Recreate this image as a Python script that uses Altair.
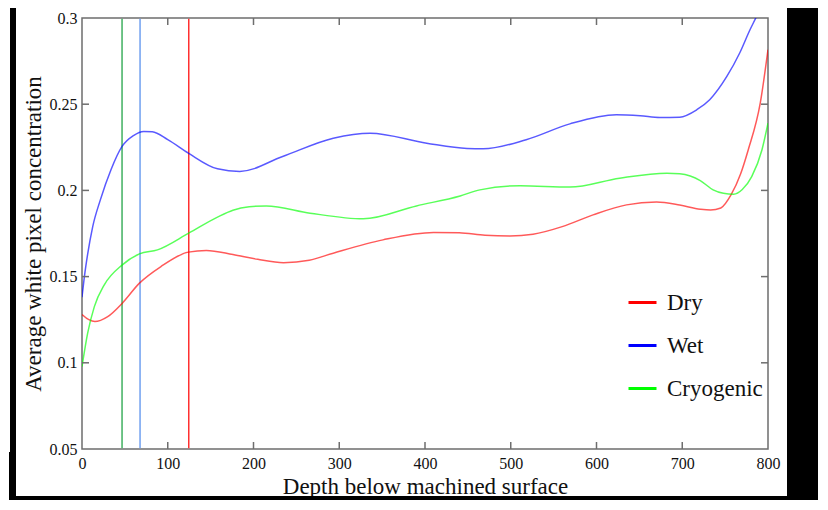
import altair as alt
import pandas as pd

# ---- data ----
dry_x = [0, 8, 15, 30, 47, 67, 92, 124, 145, 176, 205, 235, 265, 293, 351, 410, 440, 470, 499, 526, 560, 596, 635, 670, 697, 721, 733, 745, 757, 768, 777, 791, 800]
dry_y = [0.128, 0.125, 0.1239, 0.1268, 0.1346, 0.1462, 0.1558, 0.1642, 0.1652, 0.1628, 0.1600, 0.1581, 0.1595, 0.1636, 0.1713, 0.1756, 0.1754, 0.1740, 0.1736, 0.1746, 0.1790, 0.1858, 0.1916, 0.1932, 0.1915, 0.1891, 0.1886, 0.1898, 0.1975, 0.2095, 0.2236, 0.2507, 0.2816]

wet_x = [0, 2.8, 6.6, 12.5, 21.4, 33.8, 46.7, 60, 72, 82, 100, 124, 158, 184, 234, 293, 336, 402, 449, 468, 518, 569, 623, 651, 674, 697, 717, 732, 752, 767, 779, 787, 800]
wet_y = [0.138, 0.150, 0.163, 0.179, 0.1945, 0.212, 0.2255, 0.2318, 0.2342, 0.2340, 0.2294, 0.2216, 0.2125, 0.211, 0.2197, 0.2303, 0.2332, 0.2274, 0.2243, 0.2241, 0.2294, 0.2386, 0.2439, 0.2433, 0.2423, 0.2425, 0.2468, 0.2526, 0.2661, 0.2797, 0.2932, 0.3013, 0.316]

cryo_x = [0, 6.6, 14.4, 26, 47, 67, 88, 124.5, 158, 176, 195, 215, 266, 328, 390, 441, 464, 511, 569, 627, 682, 697, 721, 736, 748, 760, 770, 781, 793, 800]
cryo_y = [0.0978, 0.1172, 0.1326, 0.1452, 0.1568, 0.1632, 0.1655, 0.1752, 0.1845, 0.1885, 0.1905, 0.191, 0.1868, 0.1835, 0.191, 0.1968, 0.2003, 0.2027, 0.2019, 0.2071, 0.2100, 0.2096, 0.2057, 0.2003, 0.1983, 0.1978, 0.2005, 0.208, 0.2236, 0.239]

series = ["Dry", "Wet", "Cryogenic"]
legend_colors = ["#ff0000", "#0000ff", "#00ff00"]

vline_x = [124.5, 67.7, 46.7]
vline_names = ["Dry", "Wet", "Cryogenic"]
vline_colors = ["#ff3030", "#70a0f0", "#40b060"]

x_ticks = [0, 100, 200, 300, 400, 500, 600, 700, 800]
y_ticks = [0.05, 0.1, 0.15, 0.2, 0.25, 0.3]
x_inner_ticks = [100, 200, 300, 400, 500, 600, 700]
y_inner_ticks = [0.1, 0.15, 0.2, 0.25]

# ---- tables ----
rows = []
for name, xs, ys in [("Dry", dry_x, dry_y), ("Wet", wet_x, wet_y), ("Cryogenic", cryo_x, cryo_y)]:
    for i, (a, b) in enumerate(zip(xs, ys)):
        rows.append({"x": a, "y": b, "series": name, "order": i})
curves_df = pd.DataFrame(rows)

vl_df = pd.DataFrame({"x": vline_x, "name": vline_names, "y": [0.0505] * 3, "y2": [0.2995] * 3})
xt_df = pd.DataFrame({"x": x_inner_ticks})
yt_df = pd.DataFrame({"y": y_inner_ticks})
dummy = pd.DataFrame({"d": [0]})

W, H = 686, 431
FONT = "Liberation Serif"
GRAY = "#6e6e6e"

xscale = alt.Scale(domain=[0, 800], nice=False)
yscale = alt.Scale(domain=[0.05, 0.3], nice=False)

xaxis = alt.Axis(values=x_ticks, title="Depth below machined surface", ticks=False, domain=False,
                 labelFlush=False,
                 labelFont=FONT, labelFontSize=16, labelColor="#111", labelPadding=6,
                 titleFont=FONT, titleFontSize=23, titleFontWeight="normal", titleColor="#111",
                 titlePadding=4, grid=False)
yaxis = alt.Axis(values=y_ticks, title="Average white pixel concentration", ticks=False, domain=False,
                 labelFlush=False,
                 labelExpr="toString(round(datum.value*100)/100)",
                 labelFont=FONT, labelFontSize=16, labelColor="#111", labelPadding=5,
                 titleFont=FONT, titleFontSize=23, titleFontWeight="normal", titleColor="#111",
                 titlePadding=4, grid=False)

X = alt.X("x:Q", scale=xscale, axis=xaxis)
Y = alt.Y("y:Q", scale=yscale, axis=yaxis)


# decorative black frame (shadow)
def black_rect(x1, x2, y1, y2):
    return alt.Chart(dummy).mark_rect(color="black").encode(
        x=alt.value(x1), x2=alt.value(x2), y=alt.value(y1), y2=alt.value(y2)
    )


frame = [
    black_rect(705, 738, -10, 482),
    black_rect(-73, 738, 478, 482),
    black_rect(-72, -66, -10, 437),
    black_rect(-73, -66, 434, 482),
]

vlines = alt.Chart(vl_df).mark_rule(strokeWidth=1.5).encode(
    x=X, y=Y, y2="y2:Q",
    color=alt.Color("name:N", scale=alt.Scale(domain=vline_names, range=vline_colors), legend=None),
)

curves = alt.Chart(curves_df).mark_line(interpolate="monotone", strokeWidth=1.5, opacity=0.65, clip=True).encode(
    x=X, y=Y,
    color=alt.Color("series:N", scale=alt.Scale(domain=series, range=legend_colors),
                    legend=alt.Legend(title=None)),
    order="order:Q",
)

tick_bottom = alt.Chart(xt_df).mark_rule(color=GRAY, strokeWidth=1.5).encode(
    x=X, y=alt.value(H - 7), y2=alt.value(H))
tick_top = alt.Chart(xt_df).mark_rule(color=GRAY, strokeWidth=1.5).encode(
    x=X, y=alt.value(0), y2=alt.value(7))
tick_left = alt.Chart(yt_df).mark_rule(color=GRAY, strokeWidth=1.5).encode(
    y=Y, x=alt.value(0), x2=alt.value(7))
tick_right = alt.Chart(yt_df).mark_rule(color=GRAY, strokeWidth=1.5).encode(
    y=Y, x=alt.value(W - 7), x2=alt.value(W))

chart = alt.layer(
    *frame, vlines, curves, tick_bottom, tick_top, tick_left, tick_right
).resolve_scale(color="independent").properties(
    width=W, height=H,
    padding={"left": 74, "top": 10, "right": 50, "bottom": 51},
    autosize=alt.AutoSizeParams(type="none"),
    background="white",
).configure_view(
    stroke=GRAY, strokeWidth=1.5
).configure_legend(
    orient="none", legendX=545, legendY=269, symbolType="stroke", symbolStrokeWidth=3,
    symbolSize=784, symbolOpacity=1, labelFont=FONT, labelFontSize=23, labelColor="#111",
    labelOffset=9, rowPadding=15, padding=0
)

chart.save("out.html", embed_options={"renderer": "svg", "actions": False})
